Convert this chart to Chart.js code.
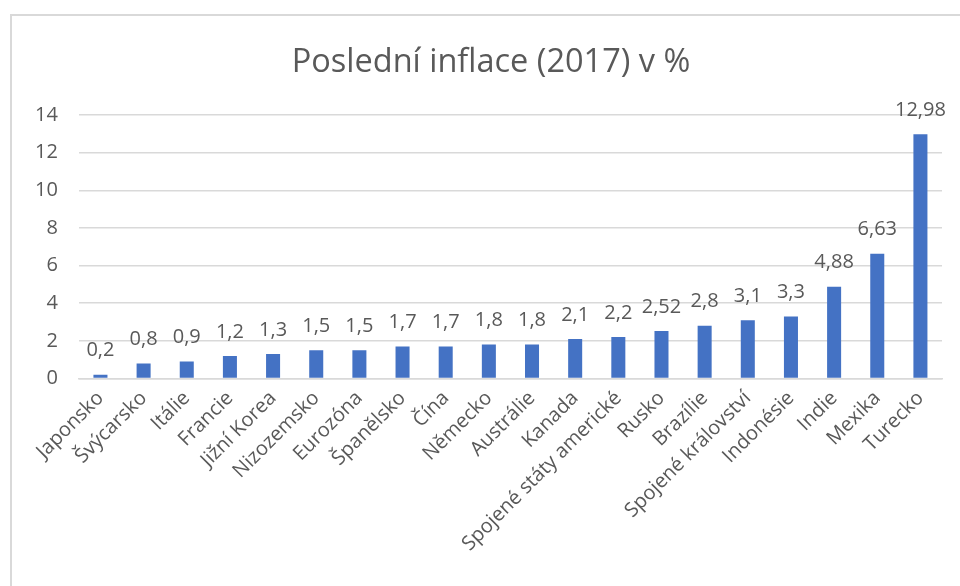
<!DOCTYPE html>
<html>
<head>
<meta charset="utf-8">
<script src="https://cdn.jsdelivr.net/npm/chart.js@4"></script>
<style>
  html, body { margin: 0; padding: 0; width: 960px; height: 586px; overflow: hidden; background: #fff; }
  #box { position: absolute; left: 10px; top: 14px; width: 1000px; height: 1000px; border: 2px solid #d9d9d9; box-sizing: border-box; }
  #wrap { position: absolute; left: 10px; top: 0; width: 962px; height: 586px; }
</style>
</head>
<body>
<div id="box"></div>
<div id="wrap"><canvas id="c" width="962" height="586"></canvas></div>
<script>
const titleText = 'Poslední inflace (2017) v %';
const categories = ['Japonsko', 'Švýcarsko', 'Itálie', 'Francie', 'Jižní Korea', 'Nizozemsko', 'Eurozóna', 'Španělsko', 'Čína', 'Německo', 'Austrálie', 'Kanada', 'Spojené státy americké', 'Rusko', 'Brazílie', 'Spojené království', 'Indonésie', 'Indie', 'Mexika', 'Turecko'];
const inflation = [0.2, 0.8, 0.9, 1.2, 1.3, 1.5, 1.5, 1.7, 1.7, 1.8, 1.8, 2.1, 2.2, 2.52, 2.8, 3.1, 3.3, 4.88, 6.63, 12.98];
const yTicks = { min: 0, max: 14, step: 2 };

const FONT = "'Open Sans', sans-serif";
const TEXT = '#595959';

const dataLabels = {
  id: 'dataLabels',
  afterDatasetsDraw(chart) {
    const ctx = chart.ctx;
    const meta = chart.getDatasetMeta(0);
    ctx.save();
    ctx.font = "20px " + FONT;
    ctx.fillStyle = TEXT;
    ctx.textAlign = 'center';
    ctx.textBaseline = 'middle';
    meta.data.forEach((bar, i) => {
      const v = chart.data.datasets[0].data[i];
      ctx.fillText(String(v).replace('.', ','), bar.x, bar.y - 24);
    });
    ctx.restore();
  }
};

// centre the title within the bordered chart box rather than the padded area
const titleCentre = {
  id: 'titleCentre',
  afterLayout(chart) {
    const t = chart.titleBlock;
    if (!t) return;
    const shift = (chart.width / 2) - (t.left + t.right) / 2;
    t.left += shift;
    t.right += shift;
  }
};

new Chart(document.getElementById('c'), {
  type: 'bar',
  data: {
    labels: categories,
    datasets: [{
      data: inflation,
      backgroundColor: '#4472C4',
      borderWidth: 0,
      barPercentage: 0.325,
      categoryPercentage: 1
    }]
  },
  options: {
    responsive: false,
    animation: false,
    devicePixelRatio: 1,
    layout: { padding: { left: 4, right: 30, top: 0, bottom: 22 } },
    plugins: {
      legend: { display: false },
      tooltip: { enabled: false },
      title: {
        display: true,
        text: titleText,
        color: TEXT,
        font: { family: FONT, size: 32.5, weight: 'normal' },
        padding: { top: 43, bottom: 33 }
      }
    },
    scales: {
      x: {
        grid: { display: false, drawTicks: false },
        border: { display: true, color: '#d9d9d9', width: 1.5 },
        ticks: {
          color: TEXT,
          font: { family: FONT, size: 20 },
          minRotation: 45,
          maxRotation: 45,
          autoSkip: false,
          padding: 8
        }
      },
      y: {
        min: yTicks.min,
        max: yTicks.max,
        grid: { color: '#d9d9d9', lineWidth: 1.5, drawTicks: false },
        border: { display: false },
        ticks: {
          stepSize: yTicks.step,
          color: TEXT,
          font: { family: FONT, size: 20 },
          padding: 21
        }
      }
    }
  },
  plugins: [dataLabels, titleCentre]
});
</script>
</body>
</html>
